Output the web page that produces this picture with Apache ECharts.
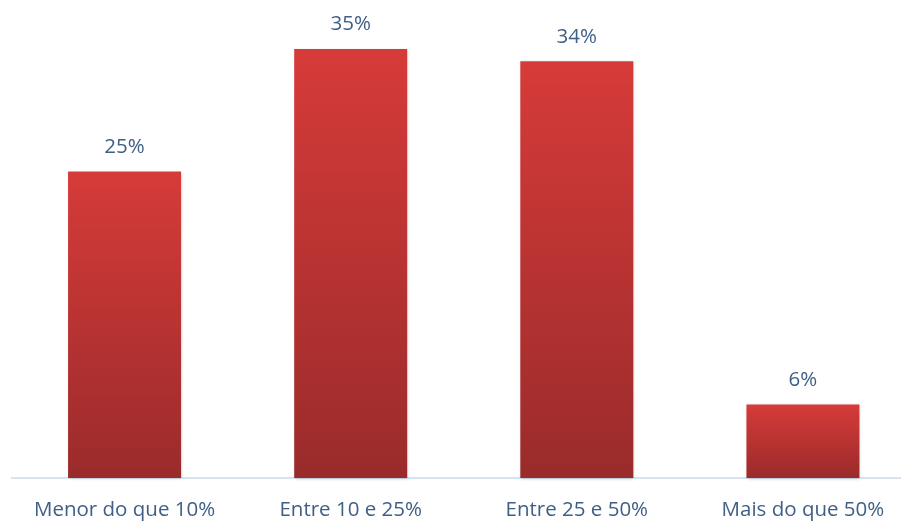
<!DOCTYPE html>
<html>
<head>
<meta charset="utf-8">
<script src="https://cdn.jsdelivr.net/npm/echarts@6/dist/echarts.min.js"></script>
<style>
  html, body { margin: 0; padding: 0; background: #ffffff; overflow: hidden; width: 901px; height: 522px; }
  /* canvas runs slightly past the right edge so the last category slot is full width */
  #chart { width: 916px; height: 522px; }
</style>
</head>
<body>
<div id="chart"></div>
<script>
// Share of respondents by range
const categories = ['Menor do que 10%', 'Entre 10 e 25%', 'Entre 25 e 50%', 'Mais do que 50%'];
const values = [25, 35, 34, 6];

const chart = echarts.init(document.getElementById('chart'));

chart.setOption({
  animation: false,
  grid: { left: 11.5, right: 0, top: 49, bottom: 44 },
  xAxis: {
    type: 'category',
    data: categories,
    axisLine: { lineStyle: { color: '#c9dbee', width: 1.5 } },
    axisTick: { show: false },
    axisLabel: {
      interval: 0,
      margin: 22,
      fontFamily: 'Open Sans',
      fontSize: 20.5,
      color: '#3f5f86'
    }
  },
  yAxis: {
    type: 'value',
    min: 0,
    max: 35,
    show: false,
    splitLine: { show: false }
  },
  series: [{
    type: 'bar',
    data: values,
    barWidth: 113,
    itemStyle: {
      color: new echarts.graphic.LinearGradient(0, 0, 0, 1, [
        { offset: 0, color: '#d63b39' },
        { offset: 1, color: '#9a2b2b' }
      ]),
      shadowColor: 'rgba(0,0,0,0.18)',
      shadowBlur: 3,
      shadowOffsetX: 1,
      shadowOffsetY: 1
    },
    label: {
      show: true,
      position: 'top',
      distance: 14,
      formatter: '{c}%',
      fontFamily: 'Open Sans',
      fontSize: 20.5,
      color: '#3f5f86'
    }
  }]
});
</script>
</body>
</html>
